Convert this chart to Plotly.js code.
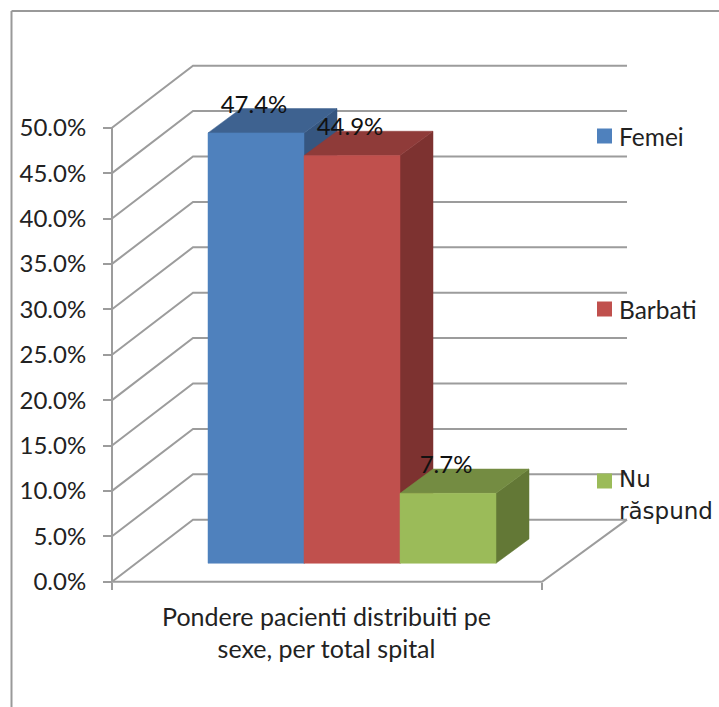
<!DOCTYPE html>
<html>
<head>
<meta charset="utf-8">
<script src="https://cdn.plot.ly/plotly-3.0.1.min.js"></script>
<style>html,body{margin:0;padding:0;background:#fff;overflow:hidden}#chart{width:719px;height:707px}</style>
</head>
<body>
<div id="chart"></div>
<script>
// Data
const seriesNames = ['Femei', 'Barbati', 'Nu răspund'];
const seriesValues = [47.4, 44.9, 7.7];
const categoryLabel = 'Pondere pacienti distribuiti pe<br>sexe, per total spital';
const axisTicks = [0, 5, 10, 15, 20, 25, 30, 35, 40, 45, 50];

// Styles
const frontColors = ['#4F81BD', '#C0504D', '#9BBB59'];
const topColors   = ['#3E6290', '#8F3B39', '#748C42'];
const sideColors  = ['#365680', '#7D3230', '#637836'];
const gridColor = '#9C9C9C';
const textColor = '#222222';
const fontFamily = 'Lato, Carlito, Calibri, sans-serif';
const tickSize = 24, labelSize = 24, categorySize = 25, legendSize = 24.5;

// Oblique projection settings; x is in plot units, height in axis units
const W = 719, H = 707, pxPerUnit = 9.08, zeroPx = 581.7;
const frontLeft = 112, frontRight = 542, backLeft = 193, backRight = 627;
const wallLift = 6.83;      // how far the back wall is raised
const barLift = 2.03;       // how far the bars' front face is raised
const barLeft = 208, barWidth = 96;
const depthX = 33, depthLift = 2.68;

const traces = [];
function line(xs, ys) {
  traces.push({type:'scatter', mode:'lines', x:xs, y:ys, showlegend:false, hoverinfo:'skip',
    line:{color:gridColor, width:2}});
}
function face(xs, ys, color) {
  traces.push({type:'scatter', mode:'lines', x:xs, y:ys, fill:'toself', fillcolor:color,
    line:{color:color, width:0.5}, showlegend:false, hoverinfo:'skip'});
}

// Walls and floor
axisTicks.forEach(t => {
  line([frontLeft, backLeft, backRight], [t, t + wallLift, t + wallLift]);
});
line([frontLeft, frontLeft], [axisTicks[0], axisTicks[axisTicks.length - 1]]);
line([frontLeft, frontRight, backRight], [0, 0, wallLift]);

// Bars, back to front in category order
seriesValues.forEach((v, i) => {
  const x0 = barLeft + i * barWidth, x1 = x0 + barWidth;
  const b = barLift, t = barLift + v;
  face([x1, x1 + depthX, x1 + depthX, x1, x1], [b, b + depthLift, t + depthLift, t, b], sideColors[i]);
  face([x0, x1, x1 + depthX, x0 + depthX, x0], [t, t, t + depthLift, t + depthLift, t], topColors[i]);
  face([x0, x1, x1, x0, x0], [b, b, t, t, b], frontColors[i]);
});

// Data labels
traces.push({type:'scatter', mode:'text', showlegend:false, hoverinfo:'skip',
  x: seriesValues.map((v, i) => barLeft + (i + 0.5) * barWidth - 2),
  y: seriesValues.map(v => v + barLift + 2.9),
  text: seriesValues.map(v => v.toFixed(1) + '%'),
  textposition:'middle center',
  textfont:{family:fontFamily, size:labelSize, color:'#111111'}});

// Legend swatches and labels
const legendY = [(zeroPx - 136) / pxPerUnit, (zeroPx - 309) / pxPerUnit, (zeroPx - 481) / pxPerUnit];
const legendSwatchX = 604.5, legendTextX = 619;
traces.push({type:'scatter', mode:'markers', showlegend:false, hoverinfo:'skip',
  x: seriesNames.map(() => legendSwatchX), y: legendY,
  marker:{symbol:'square', size:15, color:frontColors, line:{width:0}}});
const wideFamily = '"DejaVu Sans", sans-serif';
const annotations = [
  {text:seriesNames[0], y:legendY[0], font:fontFamily, size:legendSize},
  {text:seriesNames[1], y:legendY[1], font:fontFamily, size:legendSize},
  {text:'Nu', y:(zeroPx - 479) / pxPerUnit, font:wideFamily, size:23},
  {text:'răspund', y:(zeroPx - 511) / pxPerUnit, font:wideFamily, size:23}
].map(a => ({x:legendTextX, y:a.y, xref:'x', yref:'y', text:a.text, showarrow:false,
  xanchor:'left', yanchor:'middle', xshift:-2, font:{family:a.font, size:a.size, color:textColor}}));

const layout = {
  width:W, height:H,
  margin:{l:0, r:0, t:0, b:0, pad:0},
  paper_bgcolor:'#ffffff', plot_bgcolor:'rgba(0,0,0,0)',
  showlegend:false,
  font:{family:fontFamily, size:tickSize, color:textColor},
  xaxis:{
    domain:[0, 1], range:[0, W], anchor:'free', position:(H - zeroPx) / H,
    showgrid:false, zeroline:false, showline:false,
    tickmode:'array', tickvals:[(frontLeft + frontRight) / 2 - 0.5], ticktext:[categoryLabel],
    ticks:'', ticklabelstandoff:18, tickangle:0,
    tickfont:{family:fontFamily, size:categorySize, color:textColor},
    minor:{tickmode:'array', tickvals:[frontLeft, frontRight], ticks:'outside', ticklen:7, tickwidth:2, tickcolor:gridColor, showgrid:false}
  },
  yaxis:{
    domain:[0, 1], anchor:'free', position:frontLeft / W,
    range:[(zeroPx - H) / pxPerUnit, zeroPx / pxPerUnit],
    showgrid:false, zeroline:false, showline:false,
    tickmode:'array', tickvals:axisTicks, ticktext:axisTicks.map(t => t.toFixed(1) + '%'),
    ticks:'outside', ticklen:9, tickwidth:2, tickcolor:gridColor, ticklabelstandoff:12,
    tickfont:{family:fontFamily, size:tickSize, color:textColor}
  },
  annotations:annotations,
  shapes:[
    {type:'line', xref:'paper', yref:'paper', x0:11.5/W, x1:11.5/W, y0:0, y1:1-11/H, line:{color:'#999999', width:2}},
    {type:'line', xref:'paper', yref:'paper', x0:11.5/W, x1:1, y0:1-11/H, y1:1-11/H, line:{color:'#999999', width:2}}
  ]
};
Plotly.newPlot('chart', traces, layout, {displayModeBar:false, staticPlot:true});
</script>
</body>
</html>
